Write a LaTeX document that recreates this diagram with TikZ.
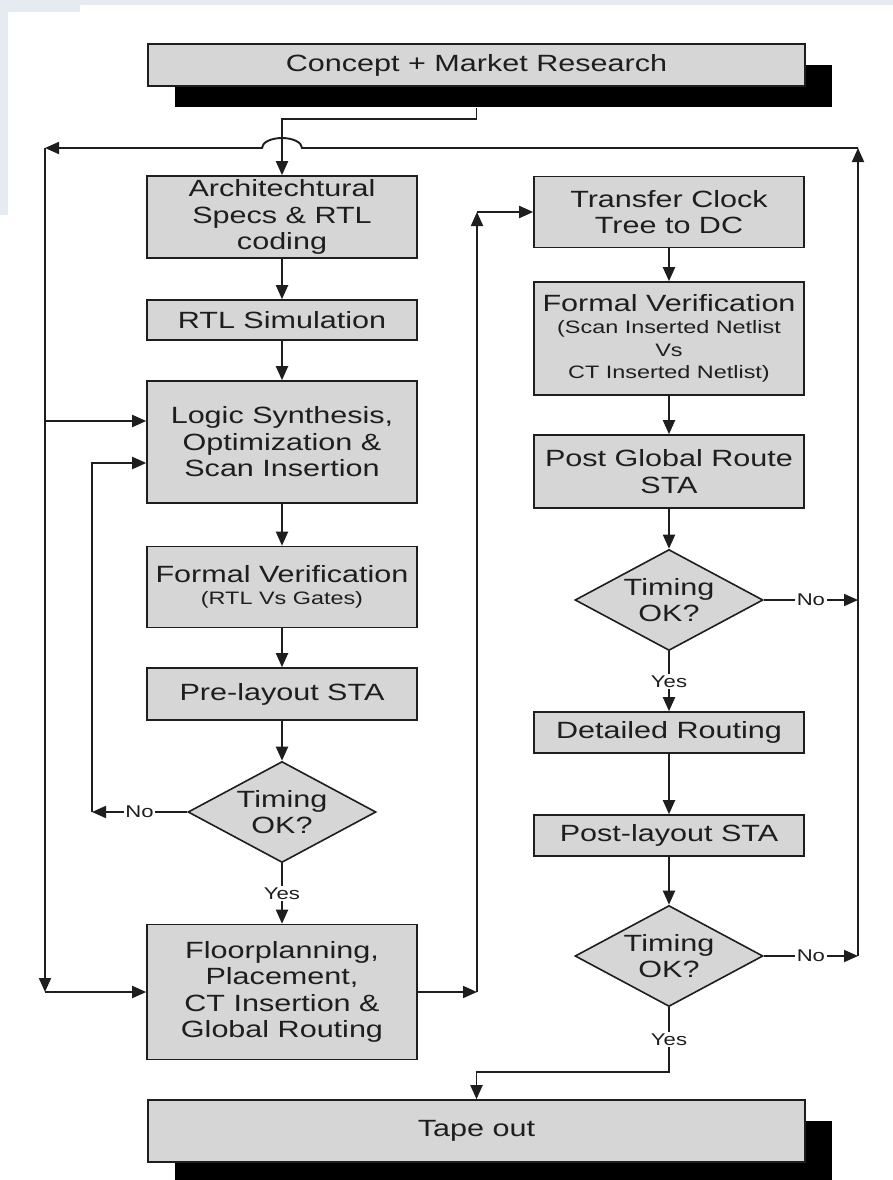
\documentclass[tikz,border=0pt]{standalone}
\usepackage{fontspec}
\setmainfont{Liberation Sans}[FakeStretch=1.3]
\usetikzlibrary{shapes.geometric,arrows.meta,shadows,positioning}

\definecolor{boxgray}{HTML}{D6D6D6}
\definecolor{inkc}{HTML}{1E1E1E}
\definecolor{bgtint}{HTML}{E6EAF1}

\newcommand{\bigtxt}{\fontsize{23.5}{26.5}\selectfont}
\newcommand{\smalltxt}{\fontsize{18}{21}\selectfont}
\newcommand{\lbltxt}{\fontsize{17}{19}\selectfont}

\begin{document}
\begin{tikzpicture}[x=1pt,y=-1pt,
    color=inkc, line width=1.9pt,
    >={Triangle[length=14pt,width=12pt]},
    stage/.style={draw, fill=boxgray, line width=1.6pt, minimum width=270pt,
      inner sep=0pt, align=center, font=\bigtxt},
    banner/.style={stage, minimum width=657pt,
      drop shadow={shadow xshift=27pt, shadow yshift=-21pt, fill=black, opacity=1}},
    check/.style={diamond, draw, fill=boxgray, line width=1.6pt, aspect=1.86,
      minimum width=188pt, minimum height=101pt, inner sep=0pt,
      align=center, font=\bigtxt},
    lbl/.style={fill=white, inner sep=1.5pt, font=\lbltxt}]

  \useasboundingbox (0,0) rectangle (893,1180);
  \fill[white] (0,0) rectangle (893,1180);
  \fill[bgtint] (0,0) rectangle (893,5);
  \fill[bgtint] (0,0) rectangle (8,215);
  \fill[bgtint] (0,0) rectangle (80,12);

  % BOXES, left column
  \node[banner, minimum height=42pt] (concept) at (476.5,65) {Concept + Market Research};
  \node[stage, minimum height=82pt] (arch) at (282,217) {Architechtural\\Specs \& RTL\\coding};
  \node[stage, minimum height=40pt] (rtlsim) at (282,320) {RTL Simulation};
  \node[stage, minimum height=122pt] (synth) at (282,442) {Logic Synthesis,\\Optimization \&\\Scan Insertion};
  \node[stage, minimum height=81pt] (fvgates) at (282,587) {Formal Verification\\[-4pt]{\smalltxt (RTL Vs Gates)}};
  \node[stage, minimum height=52pt] (prelay) at (282,694) {Pre-layout STA};
  \node[check] (chk1) at (282,812) {Timing\\OK?};
  \node[stage, minimum height=135pt] (floor) at (282,992) {Floorplanning,\\Placement,\\CT Insertion \&\\Global Routing};

  % BOXES, right column
  \node[stage, minimum height=71pt] (xfer) at (669,212) {Transfer Clock\\Tree to DC};
  \node[stage, minimum height=113pt] (fvct) at (669,338.5) {Formal Verification\\[-4pt]{\smalltxt (Scan Inserted Netlist}\\[-4pt]{\smalltxt Vs}\\[-4pt]{\smalltxt CT Inserted Netlist)}};
  \node[stage, minimum height=73pt] (pgr) at (669,471.5) {Post Global Route\\STA};
  \node[check] (chk2) at (669,600) {Timing\\OK?};
  \node[stage, minimum height=41pt] (detail) at (669,732.5) {Detailed Routing};
  \node[stage, minimum height=41pt] (postlay) at (669,835.5) {Post-layout STA};
  \node[check] (chk3) at (669,956) {Timing\\OK?};
  \node[banner, minimum height=62pt] (tape) at (476.5,1131) {Tape out};

  % CORNERS
  \coordinate (cs) at ([yshift=-21pt]concept.south);
  \coordinate (hop) at (282,148);
  \coordinate (ltop) at (45,148);
  \coordinate (lbot) at (45,992);
  \coordinate (rtop) at (858,148);
  \coordinate (rmid) at (858,600);
  \coordinate (rno) at (858,956);
  \coordinate (fbl) at (92,812);
  \coordinate (midlo) at (477,992);
  \coordinate (midhi) at (477,212);
  \coordinate (yesjoin) at (669,1072);

  % ARROWS
  \draw[->] (cs) -- ++(0,11) -| (arch.north);
  \draw[->] (arch) -- (rtlsim);
  \draw[->] (rtlsim) -- (synth);
  \draw[->] (synth) -- (fvgates);
  \draw[->] (fvgates) -- (prelay);
  \draw[->] (prelay) -- (chk1);
  \draw[->] (chk1) -- node[lbl]{Yes} (floor);
  \draw[->] (chk1) -- node[lbl]{No} (fbl);
  \draw[->] (fbl) |- ([yshift=-21pt]synth.west);

  \draw[->] (rno) -- (rtop);
  \draw[->] (rtop) -- ([xshift=20pt]hop) arc[start angle=0, end angle=180, x radius=20pt, y radius=10pt] -- (ltop);
  \draw[->] (ltop) -- (lbot);
  \draw[->] (lbot) -- (floor);
  \draw[->] ([yshift=21pt]synth.west -| ltop) -- ([yshift=21pt]synth.west);

  \draw[->] (floor) -- (midlo);
  \draw[->] (midlo) -- (midhi);
  \draw[->] (midhi) -- (xfer);
  \draw[->] (xfer) -- (fvct);
  \draw[->] (fvct) -- (pgr);
  \draw[->] (pgr) -- (chk2);
  \draw[->] (chk2) -- node[lbl]{Yes} (detail);
  \draw[->] (chk2) -- node[lbl]{No} (rmid);
  \draw[->] (detail) -- (postlay);
  \draw[->] (postlay) -- (chk3);
  \draw[->] (chk3) -- node[lbl]{No} (rno);
  \draw[->] (chk3) -- node[lbl]{Yes} (yesjoin) -| (tape.north);

\end{tikzpicture}
\end{document}
